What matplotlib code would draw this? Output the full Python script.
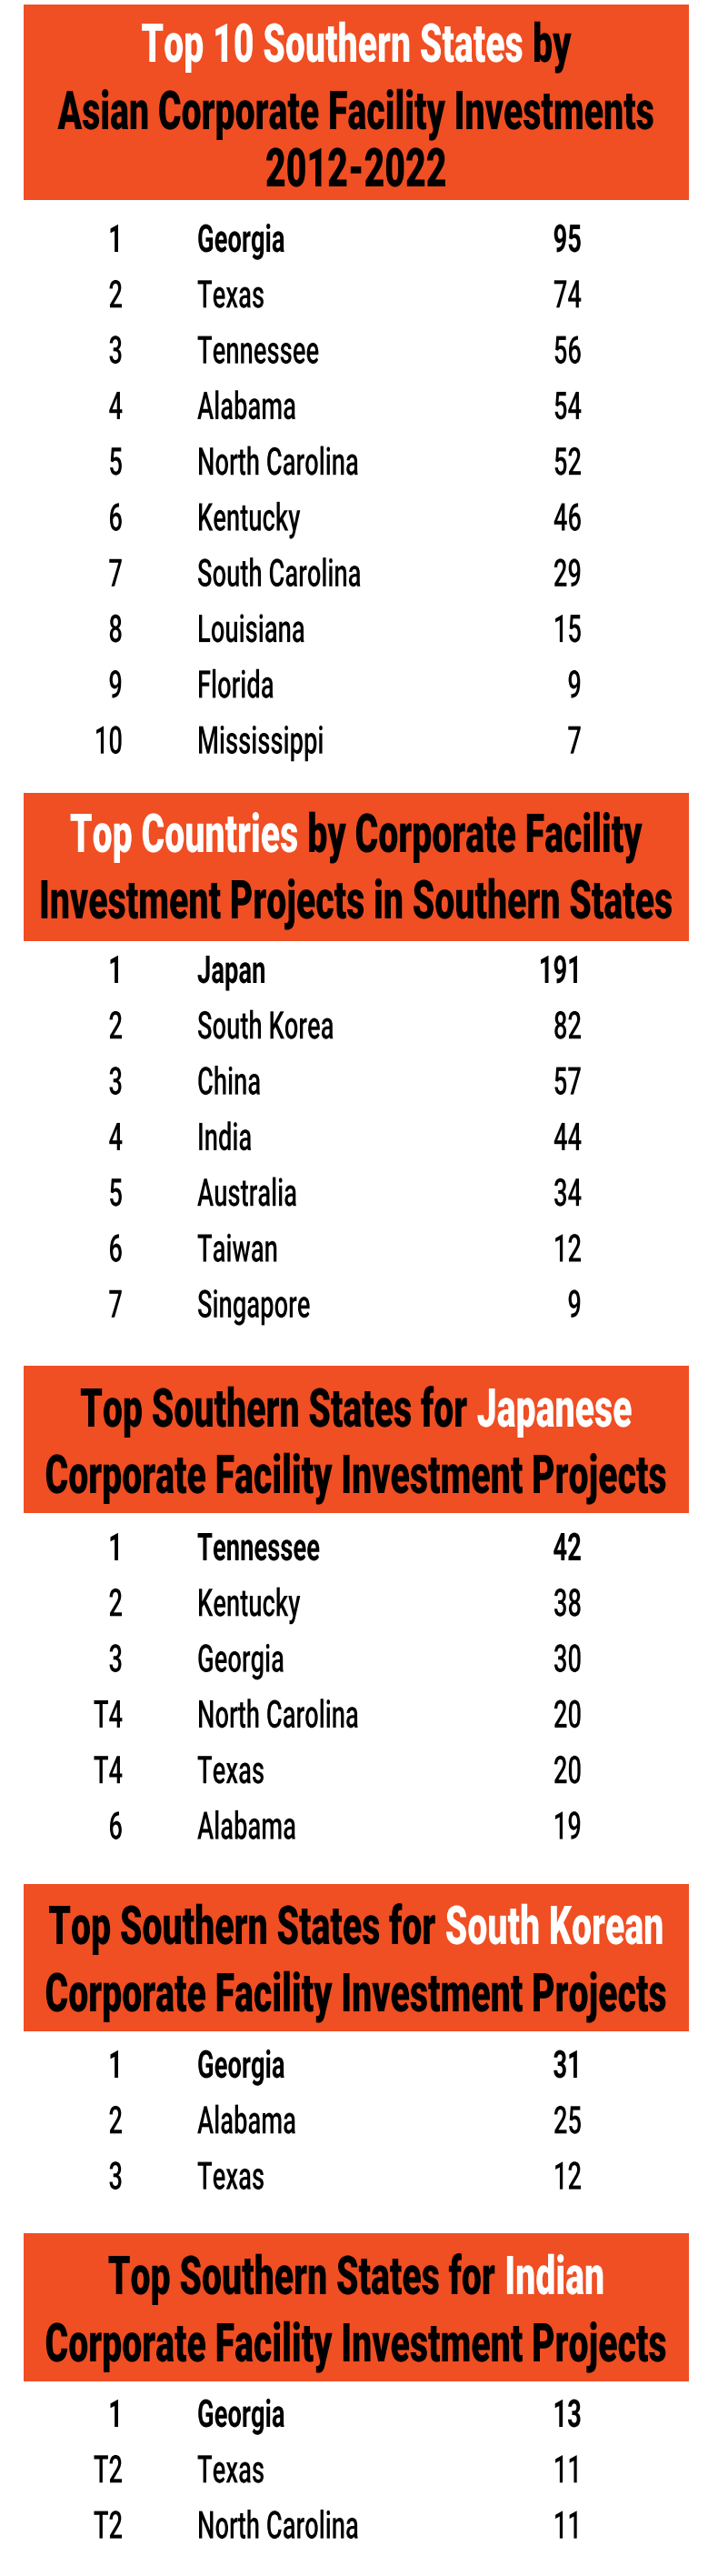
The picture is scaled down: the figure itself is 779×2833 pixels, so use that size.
import matplotlib
matplotlib.use("Agg")
import matplotlib.pyplot as plt
import matplotlib.text as mtext
from matplotlib.patches import Rectangle
from matplotlib.patheffects import AbstractPathEffect
from matplotlib.transforms import Affine2D
from matplotlib.font_manager import FontProperties
from matplotlib import font_manager as fm

# ---------------- data ----------------
s1_ranks = ["1", "2", "3", "4", "5", "6", "7", "8", "9", "10"]
s1_names = ["Georgia", "Texas", "Tennessee", "Alabama", "North Carolina",
            "Kentucky", "South Carolina", "Louisiana", "Florida", "Mississippi"]
s1_values = [95, 74, 56, 54, 52, 46, 29, 15, 9, 7]

s2_ranks = ["1", "2", "3", "4", "5", "6", "7"]
s2_names = ["Japan", "South Korea", "China", "India", "Australia", "Taiwan", "Singapore"]
s2_values = [191, 82, 57, 44, 34, 12, 9]

s3_ranks = ["1", "2", "3", "T4", "T4", "6"]
s3_names = ["Tennessee", "Kentucky", "Georgia", "North Carolina", "Texas", "Alabama"]
s3_values = [42, 38, 30, 20, 20, 19]

s4_ranks = ["1", "2", "3"]
s4_names = ["Georgia", "Alabama", "Texas"]
s4_values = [31, 25, 12]

s5_ranks = ["1", "T2", "T2"]
s5_names = ["Georgia", "Texas", "North Carolina"]
s5_values = [13, 11, 11]

W_ = "white"
K_ = "black"
s1_title = [[("Top 10 Southern States", W_), ("by", K_)],
            [("Asian Corporate Facility Investments", K_)],
            [("2012-2022", K_)]]
s2_title = [[("Top Countries", W_), ("by Corporate Facility", K_)],
            [("Investment Projects in Southern States", K_)]]
s3_title = [[("Top Southern States for", K_), ("Japanese", W_)],
            [("Corporate Facility Investment Projects", K_)]]
s4_title = [[("Top Southern States for", K_), ("South Korean", W_)],
            [("Corporate Facility Investment Projects", K_)]]
s5_title = [[("Top Southern States for", K_), ("Indian", W_)],
            [("Corporate Facility Investment Projects", K_)]]

# ---------------- style / layout ----------------
W, H = 779, 2833
ORANGE = "#F04E23"
BOX_X0, BOX_X1 = 26, 758
CX = (BOX_X0 + BOX_X1) / 2
RANK_X, NAME_X, VAL_X = 135, 217, 640
ROW_DY = 61.3

avail = {f.name for f in fm.fontManager.ttflist}
FAMILY = next((f for f in ["Roboto", "Lato", "Open Sans", "Liberation Sans Narrow", "DejaVu Sans"]
               if f in avail), "DejaVu Sans")

HEAD_CAP = 42.0
ROW_CAP = 30.0
CAP_RATIO = 0.711
HEAD_FS = HEAD_CAP / CAP_RATIO * 72 / 100
ROW_FS = ROW_CAP / CAP_RATIO * 72 / 100
HEAD_W = "black"
ROW_W = "medium"
ROW_W1 = "bold"


# --- a condensed face: metrics and drawing both narrowed by a factor ---
class CondensedFP(FontProperties):
    pass


_orig_metrics = mtext._get_text_metrics_with_cache


def _condensed_metrics(renderer, text, fontprop, ismath, dpi):
    w, h, d = _orig_metrics(renderer, text, fontprop, ismath, dpi)
    sx = getattr(fontprop, "_sx", None)
    if sx:
        w *= sx
    return w, h, d


mtext._get_text_metrics_with_cache = _condensed_metrics


class HSqueeze(AbstractPathEffect):
    """Draw the glyph outlines narrowed horizontally about the line start."""

    def __init__(self, sx):
        super().__init__()
        self.sx = sx

    def draw_path(self, renderer, gc, tpath, affine, rgbFace=None):
        renderer.draw_path(gc, tpath, Affine2D().scale(self.sx, 1) + affine, rgbFace)


def cfont(size, weight, sx):
    p = CondensedFP(family=FAMILY, size=size, weight=weight)
    p._sx = sx
    return p


fig = plt.figure(figsize=(W / 100, H / 100), dpi=100)
fig.patch.set_facecolor("white")
ax = fig.add_axes([0, 0, 1, 1])
ax.set_xlim(0, W)
ax.set_ylim(H, 0)
ax.axis("off")
renderer = fig.canvas.get_renderer()


def natural_width(s, fs, weight):
    t = ax.text(0, 0, s, fontproperties=FontProperties(family=FAMILY, size=fs, weight=weight))
    w = t.get_window_extent(renderer).width
    t.remove()
    return w


SPACE_H = natural_width("a a", HEAD_FS, HEAD_W) - natural_width("aa", HEAD_FS, HEAD_W)
SX_H = 685.0 / natural_width("Corporate Facility Investment Projects", HEAD_FS, HEAD_W)
SX_R = 178.0 / natural_width("North Carolina", ROW_FS, ROW_W)


def put(x, y, s, color, fs, weight, sx, ha):
    t = ax.text(x, y, s, color=color, fontproperties=cfont(fs, weight, sx),
                ha=ha, va="baseline")
    t.set_path_effects([HSqueeze(sx)])
    return t


def draw_heading(lines, box_top, box_h, baselines):
    ax.add_patch(Rectangle((BOX_X0, box_top), BOX_X1 - BOX_X0, box_h,
                           facecolor=ORANGE, edgecolor="none"))
    for parts, base in zip(lines, baselines):
        widths = [natural_width(p, HEAD_FS, HEAD_W) * SX_H for p, _ in parts]
        gap = SPACE_H * SX_H
        total = sum(widths) + gap * (len(parts) - 1)
        x = CX - total / 2
        for (p, c), wd in zip(parts, widths):
            put(x, box_top + base, p, c, HEAD_FS, HEAD_W, SX_H, "left")
            x += wd + gap


def draw_rows(ranks, names, values, y0):
    for i, (r, n, v) in enumerate(zip(ranks, names, values)):
        wt = ROW_W1 if i == 0 else ROW_W
        yb = y0 + i * ROW_DY + ROW_CAP / 2
        put(RANK_X, yb, r, "black", ROW_FS, wt, SX_R, "right")
        put(NAME_X, yb, n, "black", ROW_FS, wt, SX_R, "left")
        put(VAL_X, yb, str(v), "black", ROW_FS, wt, SX_R, "right")


draw_heading(s1_title, 5, 215, [63, 137, 200])
draw_rows(s1_ranks, s1_names, s1_values, 262)

draw_heading(s2_title, 872, 163, [65, 138])
draw_rows(s2_ranks, s2_names, s2_values, 1066)

draw_heading(s3_title, 1502, 162, [67, 140])
draw_rows(s3_ranks, s3_names, s3_values, 1701)

draw_heading(s4_title, 2072, 162, [66, 140])
draw_rows(s4_ranks, s4_names, s4_values, 2270)

draw_heading(s5_title, 2456, 163, [67, 141])
draw_rows(s5_ranks, s5_names, s5_values, 2654)

fig.savefig("out.png", dpi=100, facecolor="white")
